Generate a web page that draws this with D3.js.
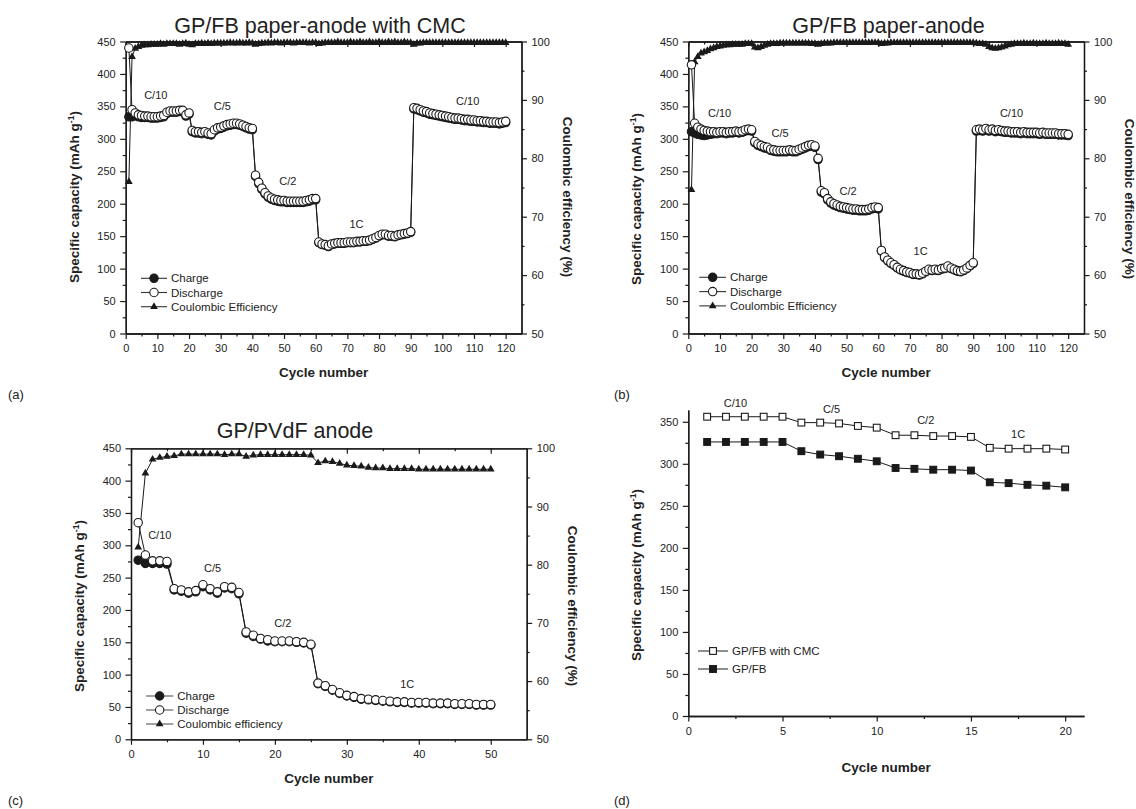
<!DOCTYPE html>
<html>
<head>
<meta charset="utf-8">
<script src="https://cdn.jsdelivr.net/npm/d3@7/dist/d3.min.js"></script>
<style>
	body { margin: 0; background: #fff; }
	svg { display: block; font-family: Arial, "Liberation Sans", sans-serif; }
</style>
</head>
<body>
<svg id="fig" width="1136" height="809"></svg>
<script>
// ---- DATA ----
var panelTitles = ['GP/FB paper-anode with CMC', 'GP/FB paper-anode', 'GP/PVdF anode'];
var panelTags = ['(a)', '(b)', '(c)', '(d)'];
var rateLabels = ['C/10', 'C/5', 'C/2', '1C', 'C/10'];
var legendAB = ['Charge', 'Discharge', 'Coulombic Efficiency'];
var legendC = ['Charge', 'Discharge', 'Coulombic efficiency'];
var legendD = ['GP/FB with CMC', 'GP/FB'];

var capacityTicks = [0, 50, 100, 150, 200, 250, 300, 350, 400, 450];
var efficiencyTicks = [50, 60, 70, 80, 90, 100];
var cycleTicksLong = [0, 10, 20, 30, 40, 50, 60, 70, 80, 90, 100, 110, 120];
var cycleTicksShort = [0, 10, 20, 30, 40, 50];
var capacityTicksD = [0, 50, 100, 150, 200, 250, 300, 350];
var cycleTicksD = [0, 5, 10, 15, 20];

// (a) GP/FB paper-anode with CMC, cycles 1..120
var aDischarge = [440, 345, 340, 337, 336, 335, 335, 334, 334, 334,
	335, 336, 341, 343, 343, 343, 344, 344, 337, 340,
	313, 311, 311, 310, 311, 309, 308, 314, 317, 318,
	320, 322, 323, 324, 324, 323, 321, 319, 317, 316,
	244, 233, 224, 217, 212, 209, 207, 206, 205, 205,
	204, 204, 204, 204, 204, 204, 205, 206, 208, 208,
	141, 138, 137, 135, 138, 139, 140, 140, 140, 141,
	141, 141, 142, 142, 143, 143, 144, 146, 148, 151,
	153, 153, 151, 151, 150, 152, 153, 154, 155, 157,
	348, 347, 345, 343, 342, 340, 339, 338, 337, 336,
	335, 334, 333, 332, 332, 331, 330, 330, 329, 329,
	328, 328, 327, 327, 326, 326, 326, 325, 326, 327];
var aCharge = [334, 334, 336, 334, 333, 333, 333, 332, 332, 332,
	333, 334, 339, 341, 341, 341, 342, 342, 335, 338,
	311, 309, 309, 308, 309, 307, 306, 312, 315, 316,
	318, 320, 321, 322, 322, 321, 319, 317, 315, 314,
	242, 231, 222, 215, 210, 207, 205, 204, 203, 203,
	202, 202, 202, 202, 202, 202, 203, 204, 206, 206,
	140, 137, 136, 134, 137, 138, 139, 139, 139, 140,
	140, 140, 141, 141, 142, 142, 143, 145, 147, 150,
	152, 152, 150, 150, 149, 151, 152, 153, 154, 156,
	346, 345, 343, 341, 340, 338, 337, 336, 335, 334,
	333, 332, 331, 330, 330, 329, 328, 328, 327, 327,
	326, 326, 325, 325, 324, 324, 324, 323, 324, 325];
var aEfficiency = [76.0, 97.4, 98.8, 99.1, 99.3, 99.4, 99.4, 99.5, 99.5, 99.5,
	99.6, 99.5, 99.6, 99.6, 99.6, 99.6, 99.5, 99.6, 99.7, 99.5,
	99.4, 99.6, 99.6, 99.7, 99.6, 99.7, 99.6, 99.7, 99.7, 99.7,
	99.7, 99.7, 99.8, 99.7, 99.7, 99.8, 99.7, 99.7, 99.8, 99.7,
	99.5, 99.6, 99.7, 99.7, 99.8, 99.7, 99.8, 99.8, 99.7, 99.8,
	99.8, 99.8, 99.7, 99.8, 99.8, 99.8, 99.8, 99.7, 99.8, 99.8,
	99.6, 99.7, 99.8, 99.8, 99.8, 99.8, 99.9, 99.8, 99.8, 99.8,
	99.9, 99.8, 99.8, 99.9, 99.8, 99.8, 99.9, 99.8, 99.8, 99.9,
	99.8, 99.8, 99.9, 99.8, 99.9, 99.8, 99.8, 99.9, 99.8, 99.8,
	99.5, 99.7, 99.7, 99.8, 99.8, 99.8, 99.8, 99.8, 99.8, 99.8,
	99.8, 99.8, 99.8, 99.8, 99.8, 99.8, 99.8, 99.8, 99.8, 99.8,
	99.8, 99.8, 99.8, 99.8, 99.8, 99.8, 99.8, 99.8, 99.8, 99.8];

// (b) GP/FB paper-anode, cycles 1..120
var bDischarge = [414, 324, 318, 315, 313, 312, 311, 311, 310, 311,
	311, 310, 311, 311, 312, 311, 312, 314, 315, 314,
	296, 292, 290, 288, 287, 284, 283, 282, 282, 282,
	282, 283, 282, 282, 284, 286, 288, 290, 291, 289,
	270, 220, 217, 208, 203, 200, 198, 196, 195, 194,
	193, 192, 192, 191, 191, 191, 192, 194, 195, 194,
	128, 118, 113, 109, 106, 102, 99, 97, 95, 94,
	92, 92, 91, 93, 96, 99, 98, 99, 98, 100,
	101, 104, 101, 99, 97, 96, 98, 101, 105, 109,
	314, 315, 314, 316, 314, 315, 313, 314, 313, 312,
	312, 311, 311, 311, 310, 311, 310, 310, 310, 310,
	309, 310, 309, 309, 309, 309, 308, 308, 308, 307];
var bCharge = [311, 309, 307, 306, 305, 306, 307, 308, 308, 309,
	309, 308, 309, 309, 310, 309, 310, 312, 313, 312,
	294, 290, 288, 286, 285, 282, 281, 280, 280, 280,
	280, 281, 280, 280, 282, 284, 286, 288, 289, 287,
	268, 218, 215, 206, 201, 198, 196, 194, 193, 192,
	191, 190, 190, 189, 189, 189, 190, 192, 193, 192,
	127, 117, 112, 108, 105, 101, 98, 96, 94, 93,
	91, 91, 90, 92, 95, 98, 97, 98, 97, 99,
	100, 103, 100, 98, 96, 95, 97, 100, 104, 108,
	312, 313, 312, 314, 312, 313, 311, 312, 311, 310,
	310, 309, 309, 309, 308, 309, 308, 308, 308, 308,
	307, 308, 307, 307, 307, 307, 306, 306, 306, 305];
var bEfficiency = [74.6, 96.5, 97.4, 98.0, 98.2, 98.4, 98.7, 98.9, 99.1, 99.2,
	99.3, 99.4, 99.4, 99.5, 99.5, 99.5, 99.5, 99.6, 99.6, 99.6,
	99.0, 98.9, 99.1, 99.3, 99.5, 99.6, 99.6, 99.6, 99.7, 99.7,
	99.7, 99.7, 99.7, 99.7, 99.7, 99.7, 99.7, 99.7, 99.6, 99.6,
	99.5, 99.6, 99.7, 99.7, 99.7, 99.8, 99.8, 99.8, 99.8, 99.8,
	99.8, 99.8, 99.8, 99.8, 99.8, 99.8, 99.8, 99.8, 99.8, 99.8,
	99.6, 99.7, 99.7, 99.8, 99.8, 99.8, 99.8, 99.8, 99.8, 99.8,
	99.8, 99.8, 99.8, 99.8, 99.8, 99.8, 99.8, 99.8, 99.8, 99.8,
	99.8, 99.8, 99.8, 99.8, 99.8, 99.8, 99.8, 99.8, 99.8, 99.8,
	99.7, 99.6, 99.6, 99.5, 99.1, 98.9, 98.8, 98.9, 99.0, 99.2,
	99.4, 99.5, 99.6, 99.6, 99.6, 99.7, 99.6, 99.6, 99.7, 99.6,
	99.6, 99.6, 99.7, 99.6, 99.6, 99.6, 99.7, 99.6, 99.6, 99.5];

// (c) GP/PVdF anode, cycles 1..50
var cDischarge = [335, 285, 276, 276, 275, 233, 231, 228, 230, 239,
	233, 228, 236, 235, 227, 166, 161, 156, 154, 152,
	152, 152, 151, 150, 147, 87, 83, 77, 72, 68,
	66, 63, 62, 61, 60, 59, 58, 58, 57, 57,
	57, 56, 56, 56, 55, 55, 55, 54, 54, 54];
var cCharge = [277, 272, 272, 272, 271, 231, 229, 226, 228, 236,
	231, 226, 234, 233, 225, 164, 159, 155, 152, 151,
	151, 151, 150, 149, 146, 86, 82, 76, 71, 67,
	65, 62, 61, 60, 59, 58, 57, 57, 56, 56,
	56, 55, 55, 55, 54, 54, 54, 53, 53, 53];
var cEfficiency = [83.0, 95.7, 98.1, 98.4, 98.6, 98.7, 99.0, 99.0, 99.0, 99.0,
	99.0, 99.0, 98.9, 99.0, 99.0, 98.6, 98.8, 98.9, 98.9, 98.9,
	98.9, 98.9, 98.9, 98.9, 98.8, 97.5, 97.8, 97.7, 97.4, 97.1,
	97.0, 96.9, 96.7, 96.6, 96.6, 96.5, 96.5, 96.5, 96.5, 96.4,
	96.4, 96.4, 96.4, 96.4, 96.4, 96.4, 96.4, 96.4, 96.4, 96.4];

// (d) rate summary, cycles 1..20
var dWithCMC = [356, 356, 356, 356, 356, 349, 349, 348, 345, 343,
	334, 334, 333, 333, 332, 319, 318, 318, 318, 317];
var dPlain = [326, 326, 326, 326, 326, 315, 311, 309, 306, 303,
	295, 294, 293, 293, 292, 278, 277, 275, 274, 272];

(function() {

	var svg = d3.select('#fig');
	var ink = '#1a1a1a';
	var textInk = '#222';
	var majorLen = 5.5, minorLen = 3;

	function midTicks(ticks) {
		// minor ticks sit half way between labelled ones
		return ticks.slice(1).map(function(t, i) { return (t + ticks[i]) / 2; });
	}

	function styleAxis(sel) {
		sel.select('.domain').attr('stroke', ink).attr('stroke-width', 1.3);
		sel.selectAll('.tick line').attr('stroke', ink).attr('stroke-width', 1.2);
		sel.selectAll('.tick text')
			.attr('fill', textInk)
			.attr('font-size', 11)
			.attr('font-family', 'Arial, "Liberation Sans", sans-serif');
	}

	function addAxis(g, make, scale, tr, major, opts) {
		var minor = midTicks(major);
		var sign = opts.inward ? -1 : 1;
		var gm = g.append('g').attr('transform', tr)
			.call(make(scale).tickValues(minor).tickSize(sign * minorLen).tickSizeOuter(0).tickFormat(''));
		styleAxis(gm);
		var ga = g.append('g').attr('transform', tr)
			.call(make(scale).tickValues(major).tickSize(sign * majorLen).tickSizeOuter(0)
				.tickPadding(opts.pad || 4.5)
				.tickFormat(opts.noLabels ? '' : d3.format('d')));
		styleAxis(ga);
	}

	function boldLabel(g, x, y, rot, parts) {
		var t = g.append('text')
			.attr('transform', 'translate(' + x + ',' + y + ')rotate(' + rot + ')')
			.attr('text-anchor', 'middle')
			.attr('font-size', 13.5)
			.attr('font-weight', 'bold')
			.attr('fill', textInk);
		t.append('tspan').text(parts[0]);
		if (parts.length > 1) {
			t.append('tspan').attr('dy', -5).attr('font-size', 8.5).text(parts[1]);
			t.append('tspan').attr('dy', 5).text(parts[2]);
		}
		return t;
	}

	var capLabel = ['Specific capacity (mAh g', '-1', ')'];

	function marker(g, kind, cx, cy) {
		if (kind === 'open' || kind === 'filled') {
			g.append('circle').attr('cx', cx).attr('cy', cy).attr('r', 4.2)
				.attr('fill', kind === 'open' ? '#fff' : ink)
				.attr('stroke', ink).attr('stroke-width', 1.1);
		} else if (kind === 'triangle') {
			g.append('path').attr('d', d3.symbol().type(d3.symbolTriangle).size(26)())
				.attr('transform', 'translate(' + cx + ',' + cy + ')')
				.attr('fill', ink);
		} else {
			g.append('rect').attr('x', cx - 3.4).attr('y', cy - 3.4).attr('width', 6.8).attr('height', 6.8)
				.attr('fill', kind === 'square' ? ink : '#fff')
				.attr('stroke', ink).attr('stroke-width', 1.1);
		}
	}

	function drawSeries(g, values, x, y, kind) {
		var line = d3.line()
			.x(function(d, i) { return x(i + 1); })
			.y(function(d) { return y(d); });
		g.append('path').datum(values)
			.attr('d', line)
			.attr('fill', 'none')
			.attr('stroke', ink)
			.attr('stroke-width', 1);
		var mg = g.append('g');
		values.forEach(function(v, i) { marker(mg, kind, x(i + 1), y(v)); });
	}

	function drawLegend(g, items, kinds, box) {
		items.forEach(function(label, i) {
			var cy = box.y + i * box.dy;
			g.append('line')
				.attr('x1', box.x).attr('x2', box.x + box.len)
				.attr('y1', cy).attr('y2', cy)
				.attr('stroke', box.lineInk || '#333').attr('stroke-width', 1.1);
			marker(g, kinds[i], box.x + box.len / 2, cy);
			g.append('text')
				.attr('x', box.x + box.len + 4).attr('y', cy + 4.1)
				.attr('font-size', 11.5).attr('fill', textInk)
				.text(label);
		});
	}

	function drawNotes(g, notes, x, y) {
		notes.forEach(function(n) {
			g.append('text')
				.attr('x', x(n.c)).attr('y', y(n.v))
				.attr('text-anchor', 'middle')
				.attr('font-size', 11).attr('fill', textInk)
				.text(n.t);
		});
	}

	function drawCycling(p) {
		var g = svg.append('g');
		var b = p.box;
		var x = d3.scaleLinear().domain([0, p.xMax]).range([b.left, b.right]);
		var y = d3.scaleLinear().domain([0, 450]).range([b.bottom, b.top]);
		var y2 = d3.scaleLinear().domain([50, 100]).range([b.bottom, b.top]);

		addAxis(g, d3.axisTop, x, 'translate(0,' + b.top + ')', p.xTicks, { inward: true, noLabels: true });
		addAxis(g, d3.axisBottom, x, 'translate(0,' + b.bottom + ')', p.xTicks, { pad: 5.5 });
		addAxis(g, d3.axisLeft, y, 'translate(' + b.left + ',0)', capacityTicks, {});
		addAxis(g, d3.axisRight, y2, 'translate(' + b.right + ',0)', efficiencyTicks, {});

		drawSeries(g, p.eff, x, y2, 'triangle');
		drawSeries(g, p.charge, x, y, 'filled');
		drawSeries(g, p.discharge, x, y, 'open');

		drawNotes(g, p.notes, x, y);
		drawLegend(g, p.legend, ['filled', 'open', 'triangle'], p.legendBox);

		g.append('text')
			.attr('x', p.titleX).attr('y', p.titleY)
			.attr('text-anchor', 'middle')
			.attr('font-size', 21.5).attr('fill', textInk)
			.text(p.title);

		boldLabel(g, (b.left + b.right) / 2, b.bottom + 43.5, 0, ['Cycle number']);
		boldLabel(g, b.left - 47, p.yLabelY, -90, capLabel);
		boldLabel(g, b.right + 41, p.yLabelY, 90, ['Coulombic efficiency (%)']);
	}

	function drawRateSummary(p) {
		var g = svg.append('g');
		var b = p.box;
		var x = d3.scaleLinear().domain([0, 21]).range([b.left, b.right]);
		var y = d3.scaleLinear().domain([0, p.yMax]).range([b.bottom, b.top]);

		addAxis(g, d3.axisBottom, x, 'translate(0,' + b.bottom + ')', cycleTicksD, { pad: 5.5 });
		addAxis(g, d3.axisLeft, y, 'translate(' + b.left + ',0)', capacityTicksD, {});

		drawSeries(g, p.plain, x, y, 'square');
		drawSeries(g, p.cmc, x, y, 'openSquare');

		drawNotes(g, p.notes, x, y);
		drawLegend(g, legendD, ['openSquare', 'square'], p.legendBox);

		boldLabel(g, (b.left + b.right) / 2, b.bottom + 56, 0, ['Cycle number']);
		boldLabel(g, b.left - 47, p.yLabelY, -90, capLabel);
	}

	function tag(text, x, y) {
		svg.append('text').attr('x', x).attr('y', y)
			.attr('font-size', 13).attr('fill', textInk).text(text);
	}

	function init() {
		drawCycling({
			box: { left: 125.7, right: 521.5, top: 41.5, bottom: 333.5 },
			xMax: 125, xTicks: cycleTicksLong,
			discharge: aDischarge, charge: aCharge, eff: aEfficiency,
			title: panelTitles[0], titleX: 320, titleY: 33,
			yLabelY: 197,
			legend: legendAB,
			legendBox: { x: 141, y: 278.3, dy: 14.2, len: 26 },
			notes: [
				{ t: rateLabels[0], c: 9.5, v: 361 },
				{ t: rateLabels[1], c: 30.5, v: 344 },
				{ t: rateLabels[2], c: 51.2, v: 229 },
				{ t: rateLabels[3], c: 72.9, v: 163 },
				{ t: rateLabels[4], c: 108, v: 352 }
			]
		});
		drawCycling({
			box: { left: 688.3, right: 1084, top: 41.5, bottom: 333.5 },
			xMax: 125, xTicks: cycleTicksLong,
			discharge: bDischarge, charge: bCharge, eff: bEfficiency,
			title: panelTitles[1], titleX: 888.5, titleY: 33,
			yLabelY: 199,
			legend: legendAB,
			legendBox: { x: 699.3, y: 277.3, dy: 14.3, len: 26.7 },
			notes: [
				{ t: rateLabels[0], c: 9.9, v: 334 },
				{ t: rateLabels[1], c: 29, v: 303 },
				{ t: rateLabels[2], c: 50.5, v: 213 },
				{ t: rateLabels[3], c: 73.4, v: 121 },
				{ t: rateLabels[4], c: 102.1, v: 334 }
			]
		});
		drawCycling({
			box: { left: 131, right: 526.7, top: 448.3, bottom: 739.3 },
			xMax: 55, xTicks: cycleTicksShort,
			discharge: cDischarge, charge: cCharge, eff: cEfficiency,
			title: panelTitles[2], titleX: 295, titleY: 438,
			yLabelY: 606,
			legend: legendC,
			legendBox: { x: 146, y: 696, dy: 14, len: 27.3, lineInk: '#555' },
			notes: [
				{ t: rateLabels[0], c: 4.0, v: 310 },
				{ t: rateLabels[1], c: 11.35, v: 259 },
				{ t: rateLabels[2], c: 21.1, v: 174 },
				{ t: rateLabels[3], c: 38.4, v: 79 }
			]
		});
		drawRateSummary({
			box: { left: 688.3, right: 1084, top: 410, bottom: 716 },
			yMax: 364,
			cmc: dWithCMC, plain: dPlain,
			yLabelY: 575,
			legendBox: { x: 698, y: 651, dy: 18, len: 30 },
			notes: [
				{ t: rateLabels[0], c: 2.5, v: 367 },
				{ t: rateLabels[1], c: 7.6, v: 361 },
				{ t: rateLabels[2], c: 12.6, v: 347 },
				{ t: rateLabels[3], c: 17.5, v: 331 }
			]
		});
		tag(panelTags[0], 8, 399);
		tag(panelTags[1], 614, 399);
		tag(panelTags[2], 8, 805);
		tag(panelTags[3], 614, 805);
	}

	init();
})();
</script>
</body>
</html>
